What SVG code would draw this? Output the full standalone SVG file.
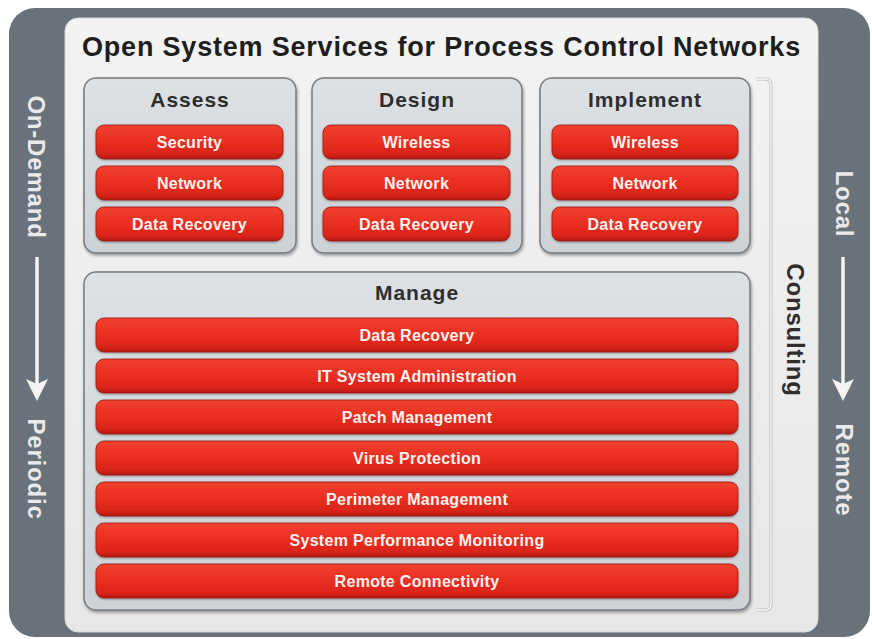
<svg xmlns="http://www.w3.org/2000/svg" width="872" height="639" viewBox="0 0 872 639">
<defs>
<linearGradient id="gPanel" x1="0" y1="0" x2="0" y2="1"><stop offset="0" stop-color="#f3f3f3"/><stop offset="1" stop-color="#e7e7e7"/></linearGradient>
<linearGradient id="gBox" x1="0" y1="0" x2="0" y2="1"><stop offset="0" stop-color="#dde1e4"/><stop offset="1" stop-color="#cdd2d6"/></linearGradient>
<linearGradient id="gRed" x1="0" y1="0" x2="0" y2="1"><stop offset="0" stop-color="#f2402f"/><stop offset="0.55" stop-color="#e82c1f"/><stop offset="0.85" stop-color="#d92419"/><stop offset="1" stop-color="#b3170f"/></linearGradient>
<filter id="sh" x="-5%" y="-5%" width="110%" height="115%"><feDropShadow dx="1" dy="2" stdDeviation="1.5" flood-color="#000" flood-opacity="0.35"/></filter>
<filter id="shs" x="-5%" y="-10%" width="110%" height="130%"><feDropShadow dx="0" dy="1" stdDeviation="0.8" flood-color="#000" flood-opacity="0.35"/></filter>
</defs>
<style>
.box{fill:url(#gBox);stroke:#767b80;stroke-width:1.5;filter:url(#sh)}
.btn{fill:url(#gRed);stroke:#9c1a12;stroke-width:0.8;filter:url(#shs)}
.bt{font-family:"Liberation Sans",Arial,sans-serif;font-weight:bold;font-size:16px;fill:#fff4f2;text-anchor:middle;letter-spacing:0.3px}
.bx{font-family:"Liberation Sans",Arial,sans-serif;font-weight:bold;font-size:21px;fill:#2e2e2e;text-anchor:middle;letter-spacing:1px}
.side{font-family:"Liberation Sans",Arial,sans-serif;font-weight:bold;font-size:24px;fill:#eaeaea;text-anchor:middle;letter-spacing:0.8px}
.cons{font-family:"Liberation Sans",Arial,sans-serif;font-weight:bold;font-size:24px;fill:#2e2e2e;text-anchor:middle;letter-spacing:0.8px}
.arr{stroke:#f4f4f4;stroke-width:3.5;fill:none}
.ah{fill:#f4f4f4}
</style>
<rect width="872" height="639" fill="#ffffff"/>
<rect id="frame" x="9" y="8" width="861" height="629" rx="26" fill="#69727a"/>
<rect id="panel" x="65" y="18" width="753" height="614" rx="13" fill="url(#gPanel)" stroke="#d6d6d6" stroke-width="1"/>
<text x="82" y="56" font-family="'Liberation Sans',Arial,sans-serif" font-weight="bold" font-size="27" fill="#1e1e1e" letter-spacing="0.8">Open System Services for Process Control Networks</text>

<g id="assess">
<rect class="box" x="84" y="78" width="212" height="175" rx="12"/>
<text class="bx" x="190" y="107">Assess</text>
<rect class="btn" x="96" y="125" width="187" height="34" rx="8"/><text class="bt" x="189.5" y="148">Security</text>
<rect class="btn" x="96" y="166" width="187" height="34" rx="8"/><text class="bt" x="189.5" y="189">Network</text>
<rect class="btn" x="96" y="207" width="187" height="34" rx="8"/><text class="bt" x="189.5" y="230">Data Recovery</text>
</g>
<g id="design">
<rect class="box" x="312" y="78" width="210" height="175" rx="12"/>
<text class="bx" x="417" y="107">Design</text>
<rect class="btn" x="323" y="125" width="187" height="34" rx="8"/><text class="bt" x="416.5" y="148">Wireless</text>
<rect class="btn" x="323" y="166" width="187" height="34" rx="8"/><text class="bt" x="416.5" y="189">Network</text>
<rect class="btn" x="323" y="207" width="187" height="34" rx="8"/><text class="bt" x="416.5" y="230">Data Recovery</text>
</g>
<g id="implement">
<rect class="box" x="540" y="78" width="210" height="175" rx="12"/>
<text class="bx" x="645" y="107">Implement</text>
<rect class="btn" x="552" y="125" width="186" height="34" rx="8"/><text class="bt" x="645" y="148">Wireless</text>
<rect class="btn" x="552" y="166" width="186" height="34" rx="8"/><text class="bt" x="645" y="189">Network</text>
<rect class="btn" x="552" y="207" width="186" height="34" rx="8"/><text class="bt" x="645" y="230">Data Recovery</text>
</g>
<g id="manage">
<rect class="box" x="84" y="272" width="666" height="338" rx="12"/>
<text class="bx" x="417" y="300">Manage</text>
<rect class="btn" x="96" y="318" width="642" height="34" rx="8"/><text class="bt" x="417" y="341">Data Recovery</text>
<rect class="btn" x="96" y="359" width="642" height="34" rx="8"/><text class="bt" x="417" y="382">IT System Administration</text>
<rect class="btn" x="96" y="400" width="642" height="34" rx="8"/><text class="bt" x="417" y="423">Patch Management</text>
<rect class="btn" x="96" y="441" width="642" height="34" rx="8"/><text class="bt" x="417" y="464">Virus Protection</text>
<rect class="btn" x="96" y="482" width="642" height="34" rx="8"/><text class="bt" x="417" y="505">Perimeter Management</text>
<rect class="btn" x="96" y="523" width="642" height="34" rx="8"/><text class="bt" x="417" y="546">System Performance Monitoring</text>
<rect class="btn" x="96" y="564" width="642" height="34" rx="8"/><text class="bt" x="417" y="587">Remote Connectivity</text>
</g>
<g id="consulting">
<path d="M756,79 H765 Q771,79 771,85 V604 Q771,610 765,610 H756" fill="none" stroke="#b9bcbf" stroke-width="3"/>
<path d="M756,79 H765 Q771,79 771,85 V604 Q771,610 765,610 H756" fill="none" stroke="#fbfbfb" stroke-width="1.3"/>
<text class="cons" transform="translate(795,330) rotate(90)" dy="0.35em">Consulting</text>
</g>
<g id="on-demand"><text class="side" transform="translate(36,167) rotate(90)" dy="0.35em">On-Demand</text></g>
<g id="periodic"><text class="side" transform="translate(36,469) rotate(90)" dy="0.35em">Periodic</text></g>
<g id="local"><text class="side" transform="translate(844,204) rotate(90)" dy="0.35em">Local</text></g>
<g id="remote"><text class="side" transform="translate(844,470) rotate(90)" dy="0.35em">Remote</text></g>
<g id="connectors">
<line class="arr" x1="37" y1="257" x2="37" y2="385"/>
<path class="ah" d="M26,379 L37,384 L48,379 L37,401 Z"/>
<line class="arr" x1="843" y1="257" x2="843" y2="385"/>
<path class="ah" d="M832,379 L843,384 L854,379 L843,401 Z"/>
</g>
</svg>
